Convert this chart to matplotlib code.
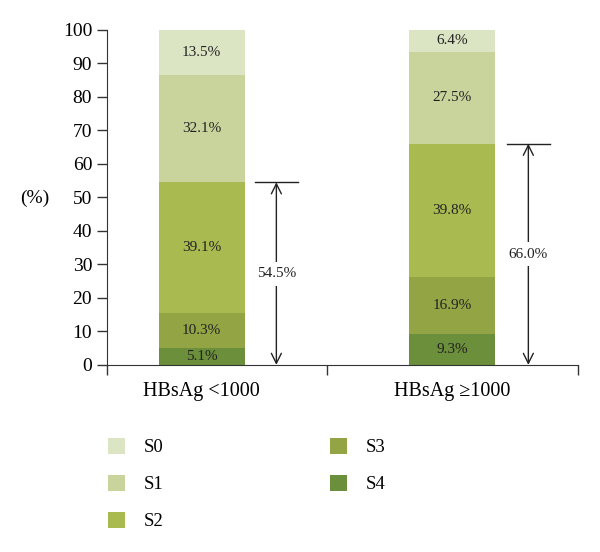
import matplotlib.pyplot as plt
import numpy as np

plt.rcParams['font.family'] = ['Liberation Serif', 'DejaVu Serif']

groups = ["HBsAg <1000", "HBsAg \u22651000"]
stages = ["S4", "S3", "S2", "S1", "S0"]
s4 = [5.1, 9.3]
s3 = [10.3, 16.9]
s2 = [39.1, 39.8]
s1 = [32.1, 27.5]
s0 = [13.5, 6.4]
cum_labels = ["54.5%", "66.0%"]
cum_values = [54.5, 66.0]

colors = ['#6b8f3a', '#93a445', '#a9bb50', '#c8d49c', '#dce5c3']

fig = plt.figure(figsize=(6, 5.52), dpi=100)
ax = fig.add_axes([0.178, 0.339, 0.785, 0.607])

x = np.array([0.403, 1.467])
w = 0.364
bottom = np.zeros(2)
bars = {}
for name, vals, c in zip(stages, [s4, s3, s2, s1, s0], colors):
    bars[name] = ax.bar(x, vals, w, bottom=bottom, color=c, label=name, zorder=2)
    for xi, b, v in zip(x, bottom, vals):
        ax.text(xi, b + v / 2, f"{v}%", ha='center', va='center', fontsize=11, color='#222222')
    bottom = bottom + np.array(vals)

# brackets showing S2-S4 total
arrow_x = [0.72, 1.79]
for ax_x, top, lab in zip(arrow_x, cum_values, cum_labels):
    ax.annotate('', xy=(ax_x, 0), xytext=(ax_x, top),
                arrowprops=dict(arrowstyle='<->', color='#222222', lw=1, mutation_scale=18,
                                shrinkA=0, shrinkB=0))
    ax.plot([ax_x - 0.09, ax_x + 0.09], [top, top], color='#222222', lw=1)
    ax.text(ax_x, top / 2, lab, ha='center', va='center', fontsize=11, color='#222222',
            bbox=dict(facecolor='white', edgecolor='none', pad=4))

ax.set_xlim(0, 2)
ax.set_ylim(0, 100)
ax.set_yticks(np.arange(0, 101, 10))
ax.tick_params(axis='y', labelsize=14, length=7, width=1, color='#333333')
ax.set_xticks(x)
ax.set_xticklabels(groups, fontsize=14.5)
ax.tick_params(axis='x', length=0, pad=12)
ax.set_xticks([0, 0.934, 2], minor=True)
ax.tick_params(axis='x', which='minor', length=7, width=1, color='#333333')
for s in ['top', 'right']:
    ax.spines[s].set_visible(False)
for s in ['left', 'bottom']:
    ax.spines[s].set_color('#333333')

fig.text(0.033, 0.641, "(%)", fontsize=14, ha='left', va='center')

handles = [bars[n] for n in ["S0", "S1", "S2", "S3", "S4"]]
fig.legend(handles, ["S0", "S1", "S2", "S3", "S4"], ncol=2, frameon=False,
           loc='upper left', bbox_to_anchor=(0.152, 0.237), fontsize=13.5,
           handlelength=0.9, handleheight=0.9, handletextpad=1.0,
           labelspacing=1.0, columnspacing=8.9)

fig.savefig("out.png", dpi=100)
